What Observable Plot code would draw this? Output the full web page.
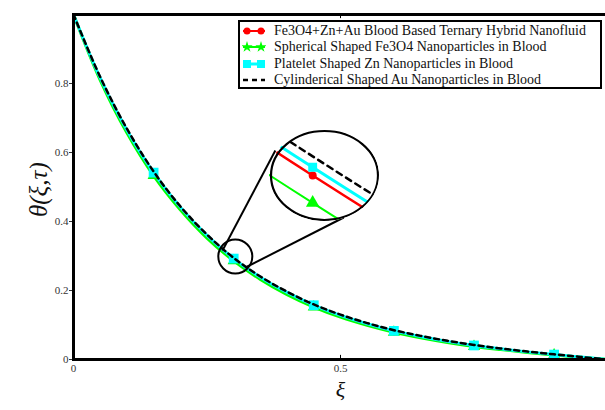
<!DOCTYPE html>
<html>
<head>
<meta charset="utf-8">
<script src="https://cdn.jsdelivr.net/npm/d3@7"></script>
<script src="https://cdn.jsdelivr.net/npm/@observablehq/plot@0.6"></script>
<style>
  html, body { margin: 0; padding: 0; background: white; }
  #wrap { position: relative; width: 605px; height: 410px; overflow: hidden; background: white; }
  #legend { position: absolute; left: 238px; top: 20px; width: 360px; height: 64px;
    border: 2px solid black; background: white; font-family: "Liberation Serif", "Times New Roman", serif;
    font-size: 14px; line-height: 16px; color: #111; padding-top: 1px; }
  .row { display: flex; align-items: center; height: 16.3px; white-space: nowrap; }
  .row svg { margin-left: 2px; margin-right: 8px; flex: none; }
  #inset { position: absolute; left: 269px; top: 129px; }
  #inset svg { clip-path: ellipse(55px 46px at 50% 50%); }
</style>
</head>
<body>
<div id="wrap"></div>
<script>
// ---- data ----
const xi = [0, 0.05, 0.1, 0.15, 0.2, 0.25, 0.3, 0.35, 0.4, 0.45, 0.5, 0.55, 0.6, 0.65, 0.7, 0.75, 0.8, 0.85, 0.9, 0.95, 1.0];
const ternary     = [1.000, 0.8147, 0.6635, 0.5400, 0.4400, 0.3580, 0.2910, 0.2370, 0.1930, 0.1560, 0.1266, 0.1024, 0.0820, 0.0657, 0.0517, 0.0400, 0.0303, 0.0217, 0.0140, 0.0068, 0];
const spherical   = [1.000, 0.8100, 0.6570, 0.5330, 0.4340, 0.3520, 0.2860, 0.2320, 0.1880, 0.1520, 0.1228, 0.0990, 0.0790, 0.0630, 0.0495, 0.0380, 0.0288, 0.0205, 0.0132, 0.0064, 0];
const platelet    = [1.000, 0.8160, 0.6650, 0.5417, 0.4416, 0.3596, 0.2925, 0.2385, 0.1944, 0.1573, 0.1278, 0.1035, 0.0830, 0.0666, 0.0525, 0.0407, 0.0309, 0.0221, 0.0143, 0.0070, 0];
const cylindrical = [1.000, 0.8190, 0.6690, 0.5450, 0.4440, 0.3620, 0.2945, 0.2405, 0.1965, 0.1595, 0.1300, 0.1055, 0.0850, 0.0685, 0.0542, 0.0422, 0.0320, 0.0230, 0.0149, 0.0073, 0];
const markerXi = [0.15, 0.3, 0.45, 0.6, 0.75, 0.9];
const seriesNames = [
  "Fe3O4+Zn+Au Blood Based Ternary Hybrid Nanofluid",
  "Spherical Shaped Fe3O4 Nanoparticles in Blood",
  "Platelet Shaped Zn Nanoparticles in Blood",
  "Cylinderical Shaped Au Nanoparticles in Blood"
];
const yTicks = [0, 0.2, 0.4, 0.6, 0.8];
const xTicks = [0, 0.5];
// zoom annotation (data units)
const zoomSpot = [{x: 0.303, y: 0.2986}];
const connectors = [
  {x1: 0.279, y1: 0.316, x2: 0.378, y2: 0.606},
  {x1: 0.322, y1: 0.2667, x2: 0.506, y2: 0.4116}
];
const insetX = [0.2958, 0.3065];
const insetY = [0.2826, 0.2994];

// ---- build tables ----
const rows = (vals) => xi.map((x, i) => ({x, y: vals[i]}));
const marks = (vals) => rows(vals).filter(d => markerXi.some(m => Math.abs(m - d.x) < 1e-9));
const R = rows(ternary), G = rows(spherical), C = rows(platelet), K = rows(cylindrical);
const Rm = marks(ternary), Gm = marks(spherical), Cm = marks(platelet);

const RED = "#ff0000", GREEN = "#00ff00", CYAN = "#00ffff";

function seriesMarks(lw, dash, sz) {
  return [
    Plot.line(G, {x: "x", y: "y", stroke: GREEN, strokeWidth: lw.g, curve: "catmull-rom"}),
    Plot.line(R, {x: "x", y: "y", stroke: RED, strokeWidth: lw.r, curve: "catmull-rom"}),
    Plot.line(C, {x: "x", y: "y", stroke: CYAN, strokeWidth: lw.c, curve: "catmull-rom"}),
    Plot.dot(Gm, {x: "x", y: "y", symbol: "triangle", fill: GREEN, r: sz.g}),
    Plot.dot(Rm, {x: "x", y: "y", symbol: "circle", fill: RED, r: sz.r}),
    Plot.dot(Cm, {x: "x", y: "y", symbol: "square", fill: CYAN, r: sz.c}),
    Plot.line(K, {x: "x", y: "y", stroke: "black", strokeWidth: lw.k, strokeDasharray: dash, curve: "catmull-rom"})
  ];
}

const main = Plot.plot({
  width: 605, height: 410,
  marginLeft: 73, marginRight: -2, marginTop: 14, marginBottom: 51,
  x: {domain: [0, 1]},
  y: {domain: [0, 1]},
  style: {fontFamily: "'Liberation Serif', 'Times New Roman', serif", fontSize: "11px", color: "#333", background: "white"},
  marks: [
    Plot.axisY({ticks: yTicks, tickSize: 4, tickPadding: 1, label: null, tickFormat: d => d === 0 ? "0" : String(d)}),
    Plot.axisX({ticks: xTicks, tickSize: 0, tickPadding: 5, label: null, tickFormat: d => d === 0 ? "0" : String(d)}),
    Plot.ruleX([0.5], {y1: 0, y2: 0.012, stroke: "black"}),
    Plot.ruleX([0.5], {y1: 1, y2: 0.988, stroke: "black"}),
    ...seriesMarks({g: 3, r: 1.5, c: 3, k: 2.5}, "5,4", {g: 4.5, r: 4, c: 5.5}),
    Plot.dot(zoomSpot, {x: "x", y: "y", r: 17, stroke: "black", strokeWidth: 2, fill: "none"}),
    Plot.link(connectors, {x1: "x1", y1: "y1", x2: "x2", y2: "y2", stroke: "black", strokeWidth: 2}),
    Plot.text(["θ(ξ,τ)"], {frameAnchor: "left", dx: -35, dy: 30, rotate: -90, fontSize: 25, fontStyle: "italic", fill: "#111", fontFamily: "'Liberation Serif', serif"}),
    Plot.text(["ξ"], {frameAnchor: "bottom", dy: 37, fontSize: 22, fontStyle: "italic", fill: "#111", fontFamily: "'Liberation Serif', serif"}),
    Plot.frame({stroke: "black", strokeWidth: 3})
  ]
});

const inset = Plot.plot({
  width: 110, height: 92,
  marginLeft: 0, marginRight: 0, marginTop: 0, marginBottom: 0,
  x: {domain: insetX, axis: null},
  y: {domain: insetY, axis: null},
  style: {background: "white"},
  marks: [
    ...seriesMarks({g: 2, r: 2.5, c: 3, k: 2.5}, "6,5", {g: 5, r: 4, c: 5}),
    Plot.frame({stroke: "black", strokeWidth: 2.2, inset: 1.5, rx: 53.5, ry: 44.5})
  ]
});

const wrap = document.getElementById("wrap");
wrap.appendChild(main);
const insetDiv = document.createElement("div");
insetDiv.id = "inset";
insetDiv.appendChild(inset);
wrap.appendChild(insetDiv);

// legend
const legend = document.createElement("div");
legend.id = "legend";
const sample = [
  `<line x1="1" y1="6" x2="23" y2="6" stroke="${RED}" stroke-width="2"/><circle cx="5" cy="6" r="3.5" fill="${RED}"/><circle cx="19" cy="6" r="3.5" fill="${RED}"/>`,
  `<line x1="1" y1="6" x2="23" y2="6" stroke="${GREEN}" stroke-width="2"/><path d="${d3.symbol(d3.symbolStar, 40)()}" transform="translate(5,6)" fill="${GREEN}"/><path d="${d3.symbol(d3.symbolStar, 40)()}" transform="translate(19,6)" fill="${GREEN}"/>`,
  `<line x1="1" y1="6" x2="23" y2="6" stroke="${CYAN}" stroke-width="3"/><rect x="1" y="2" width="8" height="8" fill="${CYAN}"/><rect x="15" y="2" width="8" height="8" fill="${CYAN}"/>`,
  `<line x1="1" y1="6" x2="23" y2="6" stroke="black" stroke-width="2.5" stroke-dasharray="5,4"/>`
];
seriesNames.forEach((name, i) => {
  const row = document.createElement("div");
  row.className = "row";
  row.innerHTML = `<svg width="24" height="12">${sample[i]}</svg><span>${name}</span>`;
  legend.appendChild(row);
});
wrap.appendChild(legend);
</script>
</body>
</html>
